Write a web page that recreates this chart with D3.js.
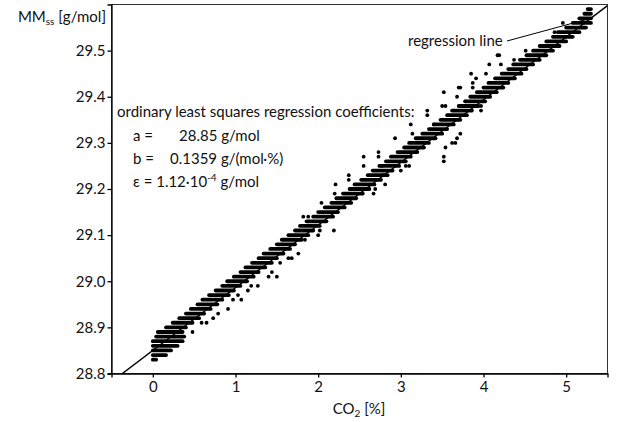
<!DOCTYPE html>
<html>
<head>
<meta charset="utf-8">
<script src="https://cdn.jsdelivr.net/npm/d3@7"></script>
<style>
  body { margin: 0; background: #fff; }
  svg { display: block; font-family: Lato, "Open Sans", sans-serif; }
</style>
</head>
<body>
<svg id="chart" width="618" height="422"></svg>
<script>
// ---- data ----
const xTicks = [0, 1, 2, 3, 4, 5];
const yTicks = [28.8, 28.9, 29.0, 29.1, 29.2, 29.3, 29.4, 29.5];
const xDomain = [-0.5, 5.5];
const yDomain = [28.8, 29.6];

// regression coefficients
const coefA = 28.85;
const coefB = 0.1359;

// dense rows of points (quantised MM levels) : level, x start, x end
const rowLevel = [28.83, 28.84, 28.85, 28.86, 28.87, 28.88, 28.89, 28.90, 28.91, 28.92,
  28.93, 28.94, 28.95, 28.96, 28.97, 28.98, 28.99, 29.00, 29.01, 29.02,
  29.03, 29.04, 29.05, 29.06, 29.07, 29.08, 29.09, 29.10, 29.11, 29.12,
  29.13, 29.14, 29.15, 29.16, 29.17, 29.18, 29.19, 29.20, 29.21, 29.22,
  29.23, 29.24, 29.25, 29.26, 29.27, 29.28, 29.29, 29.30, 29.31, 29.32,
  29.33, 29.34, 29.35, 29.36, 29.37, 29.38, 29.39, 29.40, 29.41, 29.42,
  29.43, 29.44, 29.45, 29.46, 29.47, 29.48, 29.49, 29.50, 29.51, 29.52,
  29.53, 29.54, 29.55, 29.56, 29.57, 29.58, 29.59];
const rowStart = [0.00, 0.00, 0.00, 0.00, 0.00, 0.04, 0.06, 0.16, 0.24, 0.32,
  0.40, 0.46, 0.54, 0.60, 0.68, 0.76, 0.84, 0.90, 0.98, 1.06,
  1.12, 1.20, 1.28, 1.34, 1.42, 1.50, 1.56, 1.64, 1.72, 1.78,
  1.86, 1.94, 2.00, 2.08, 2.16, 2.22, 2.30, 2.38, 2.44, 2.52,
  2.60, 2.66, 2.74, 2.82, 2.88, 2.96, 3.04, 3.10, 3.18, 3.26,
  3.34, 3.40, 3.48, 3.56, 3.62, 3.70, 3.78, 3.84, 3.92, 4.00,
  4.06, 4.14, 4.22, 4.30, 4.36, 4.44, 4.52, 4.60, 4.68, 4.76,
  4.84, 4.92, 5.00, 5.08, 5.16, 5.22, 5.26];
const rowEnd = [0.04, 0.16, 0.22, 0.30, 0.36, 0.38, 0.36, 0.40, 0.48, 0.56,
  0.62, 0.70, 0.78, 0.84, 0.92, 0.98, 1.06, 1.14, 1.22, 1.28,
  1.36, 1.44, 1.50, 1.58, 1.66, 1.72, 1.80, 1.88, 1.94, 2.02,
  2.10, 2.18, 2.24, 2.32, 2.40, 2.46, 2.54, 2.62, 2.68, 2.76,
  2.84, 2.90, 2.98, 3.06, 3.12, 3.20, 3.28, 3.34, 3.42, 3.50,
  3.56, 3.64, 3.72, 3.80, 3.86, 3.94, 4.02, 4.08, 4.16, 4.24,
  4.30, 4.38, 4.46, 4.52, 4.60, 4.68, 4.76, 4.84, 4.92, 5.00,
  5.08, 5.16, 5.24, 5.30, 5.30, 5.30, 5.30];

// scattered individual points
const outX = [0.48, 0.59, 0.65, 0.73, 0.79, 0.91, 0.97, 1.03, 1.07, 1.15, 1.19, 1.27, 1.40, 1.50, 1.44, 1.54, 1.64, 1.68, 1.76,
  1.84, 2.00, 2.02, 2.19, 2.67, 2.69, 2.79, 2.81, 2.77, 3.00, 3.06, 3.10, 3.52, 3.52, 3.54, 3.62, 3.66, 3.68, 3.72,
  1.82, 1.88, 2.04, 2.20, 2.21, 2.37, 2.37, 2.55, 2.55, 2.73, 2.73, 2.93, 3.14, 3.12, 3.40, 3.32, 3.32, 3.50, 3.54,
  3.52, 3.68, 3.78, 3.70, 3.72, 3.87, 3.87, 3.85, 3.91, 4.03, 4.07, 4.21, 4.37, 4.17, 4.19, 4.51, 4.86, 4.90, 4.96,
  3.93, 3.97, 3.97];
const outY = [28.89, 28.91, 28.91, 28.92, 28.93, 28.94, 28.96, 28.97, 28.96, 28.98, 28.99, 28.99, 29.01, 29.01, 29.02, 29.04, 29.05, 29.05, 29.06,
  29.09, 29.10, 29.11, 29.11, 29.19, 29.20, 29.23, 29.21, 29.25, 29.24, 29.25, 29.25, 29.26, 29.27, 29.29, 29.30, 29.30, 29.31, 29.32,
  29.14, 29.14, 29.17, 29.19, 29.21, 29.22, 29.23, 29.25, 29.27, 29.27, 29.28, 29.31, 29.32, 29.34, 29.34, 29.36, 29.37, 29.38, 29.38,
  29.41, 29.40, 29.39, 29.42, 29.42, 29.42, 29.43, 29.45, 29.44, 29.45, 29.47, 29.47, 29.48, 29.49, 29.49, 29.50, 29.54, 29.54, 29.56,
  29.38, 29.38, 29.37];

// ---- drawing ----
const svg = d3.select("#chart");
const L = 111.5, R = 607.5, T = 4.5, B = 373.5;
const x = d3.scaleLinear().domain(xDomain).range([L, R]);
const y = d3.scaleLinear().domain(yDomain).range([B, T]);
const FS = 15;
const SUB = 10;

// frame
svg.append("rect").attr("x", L).attr("y", T).attr("width", R - L).attr("height", B - T)
  .attr("fill", "none").attr("stroke", "#333").attr("stroke-width", 1);

svg.append("clipPath").attr("id", "plot")
  .append("rect").attr("x", L).attr("y", T).attr("width", R - L).attr("height", B - T);

const g = svg.append("g").attr("clip-path", "url(#plot)");

// dense rows
const rows = rowLevel.map((v, i) => ({ v, s: rowStart[i], e: rowEnd[i] }));
g.selectAll("line.row").data(rows).enter().append("line")
  .attr("class", "row")
  .attr("x1", d => x(d.s)).attr("x2", d => x(d.e))
  .attr("y1", d => y(d.v)).attr("y2", d => y(d.v))
  .attr("stroke", "#000").attr("stroke-width", 3.8).attr("stroke-linecap", "round");

// scattered points
const pts = outX.map((v, i) => ({ x: v, y: outY[i] }));
g.selectAll("circle.pt").data(pts).enter().append("circle")
  .attr("cx", d => x(d.x)).attr("cy", d => y(d.y)).attr("r", 1.9).attr("fill", "#000");

// regression line
g.append("line")
  .attr("x1", x(xDomain[0])).attr("y1", y(coefA + coefB * xDomain[0]))
  .attr("x2", x(xDomain[1])).attr("y2", y(coefA + coefB * xDomain[1]))
  .attr("stroke", "#000").attr("stroke-width", 1.4);

// axes
const xAxis = d3.axisBottom(x).tickValues(xTicks).tickFormat(d3.format("d")).tickSize(4).tickSizeOuter(4).tickPadding(4);
const yAxis = d3.axisLeft(y).tickValues(yTicks).tickFormat(d3.format(".1f")).tickSize(4).tickSizeOuter(4).tickPadding(2);

const gx = svg.append("g").attr("transform", `translate(0,${B})`).call(xAxis);
const gy = svg.append("g").attr("transform", `translate(${L},0)`).call(yAxis);
[gx, gy].forEach(a => {
  a.selectAll("path, line").attr("stroke", "#000").attr("stroke-width", 1.3);
  a.selectAll("text").attr("font-size", FS).attr("font-family", "Lato, sans-serif").attr("fill", "#111");
});

// axis titles
const yt = svg.append("text").attr("x", 106).attr("y", 22).attr("text-anchor", "end")
  .attr("font-size", FS).attr("fill", "#111");
yt.append("tspan").text("MM");
yt.append("tspan").attr("font-size", SUB).attr("dy", 3).text("ss");
yt.append("tspan").attr("dy", -3).text(" [g/mol]");

const xt = svg.append("text").attr("x", 359).attr("y", 414).attr("text-anchor", "middle")
  .attr("font-size", FS).attr("fill", "#111");
xt.append("tspan").text("CO");
xt.append("tspan").attr("font-size", SUB).attr("dy", 3).text("2");
xt.append("tspan").attr("dy", -3).text(" [%]");

// annotation block
const ann = svg.append("g").attr("font-size", FS).attr("fill", "#111");
ann.append("text").attr("x", 117).attr("y", 117).text("ordinary least squares regression coefficients:");
ann.append("text").attr("x", 133).attr("y", 141).text("a =");
ann.append("text").attr("x", 179).attr("y", 141).text(d3.format(".2f")(coefA) + " g/mol");
ann.append("text").attr("x", 133).attr("y", 164).text("b =");
ann.append("text").attr("x", 170).attr("y", 164).text(d3.format(".4f")(coefB) + " g/(mol·%)");
const eps = ann.append("text").attr("x", 133).attr("y", 187);
eps.append("tspan").text("ε = 1.12·10");
eps.append("tspan").attr("font-size", SUB).attr("dy", -6).text("-4");
eps.append("tspan").attr("dy", 6).text(" g/mol");

// regression line label + leader
svg.append("text").attr("x", 408).attr("y", 46).attr("font-size", FS).attr("fill", "#111").text("regression line");
svg.append("line").attr("x1", 507).attr("y1", 41).attr("x2", x(5.3)).attr("y2", y(coefA + coefB * 5.3))
  .attr("stroke", "#000").attr("stroke-width", 1);
</script>
</body>
</html>
